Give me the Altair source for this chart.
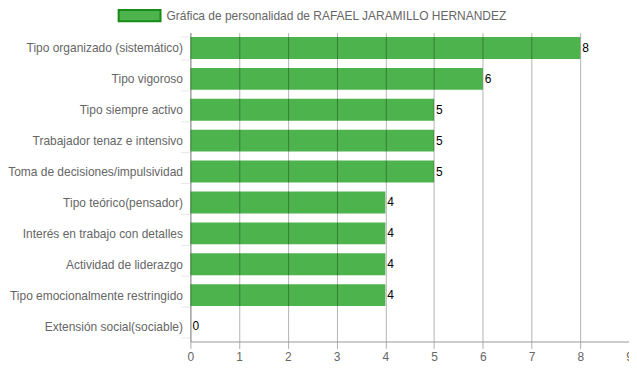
import altair as alt
import pandas as pd

categories = [
    "Tipo organizado (sistemático)",
    "Tipo vigoroso",
    "Tipo siempre activo",
    "Trabajador tenaz e intensivo",
    "Toma de decisiones/impulsividad",
    "Tipo teórico(pensador)",
    "Interés en trabajo con detalles",
    "Actividad de liderazgo",
    "Tipo emocionalmente restringido",
    "Extensión social(sociable)",
]
values = [8, 6, 5, 5, 5, 4, 4, 4, 4, 0]
series_name = "Gráfica de personalidad de RAFAEL JARAMILLO HERNANDEZ"
x_ticks = [0, 1, 2, 3, 4, 5, 6, 7, 8, 9]

df = pd.DataFrame({"cat": categories, "val": values, "serie": series_name})

FONT = "Liberation Sans"
GREEN = "#4db34d"

y_enc = alt.Y(
    "cat:N",
    sort=categories,
    title=None,
    scale=alt.Scale(paddingInner=0.29, paddingOuter=0.145),
    axis=alt.Axis(
        tickBand="extent",
        tickSize=10,
        tickColor="#e8e8e8",
        gridColor="#ebebeb",
        domainColor="#b5b5b5",
        labelPadding=-2,
        labelFont=FONT,
        labelFontSize=12,
        labelColor="#666666",
        labelLimit=300,
    ),
)

bars = alt.Chart(df).mark_bar(cornerRadius=0).encode(
    x=alt.X(
        "val:Q",
        title=None,
        scale=alt.Scale(domain=[0, 9], nice=False),
        axis=alt.Axis(
            values=x_ticks,
            format="d",
            tickSize=7,
            tickColor="#b0b0b0",
            gridColor="#000000",
            gridOpacity=0.3,
            domainColor="#999999",
            labelPadding=3,
            labelFlush=False,
            labelFont=FONT,
            labelFontSize=12,
            labelColor="#666666",
            zindex=1,
        ),
    ),
    y=y_enc,
    color=alt.Color(
        "serie:N",
        scale=alt.Scale(domain=[series_name], range=[GREEN]),
        legend=alt.Legend(
            title=None,
            orient="none",
            legendX=-73,
            legendY=-39,
            symbolType="M-1,-0.27L1,-0.27L1,0.27L-1,0.27Z",
            symbolSize=1764,
            symbolStrokeColor="#178a17",
            symbolStrokeWidth=2,
            symbolFillColor=GREEN,
            symbolOpacity=1,
            labelFont=FONT,
            labelFontSize=12,
            labelColor="#666666",
            labelOffset=5,
            labelLimit=500,
        ),
    ),
)

texts = alt.Chart(df).mark_text(
    align="left", baseline="middle", dx=2, font=FONT, fontSize=12, color="#000000"
).encode(
    x="val:Q",
    y=alt.Y("cat:N", sort=categories),
    text="val:Q",
)

chart = (
    alt.layer(bars, texts)
    .properties(
        width=440,
        height=310,
        autosize=alt.AutoSizeParams(type="none"),
        padding={"left": 183, "top": 24, "right": 0, "bottom": 24},
    )
    .configure_view(stroke=None)
)

chart.save("out.html", embed_options={"renderer": "svg", "actions": False})
